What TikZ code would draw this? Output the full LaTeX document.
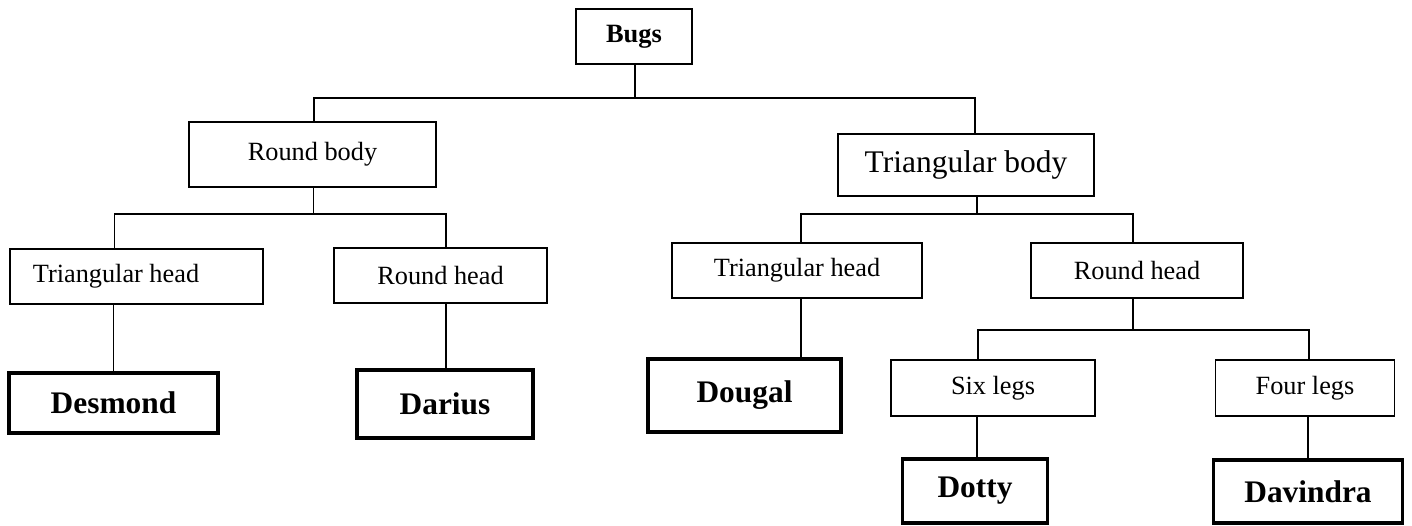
\documentclass[tikz,border=0pt]{standalone}
\usepackage{fontspec}
\setmainfont{Liberation Serif}
\begin{document}
\begin{tikzpicture}[x=1pt,y=-1pt,
  box/.style={draw=black,line width=1.3pt,inner sep=0pt,anchor=center,
    font=\fontsize{26.3}{30}\selectfont},
  namebox/.style={draw=black,line width=3.2pt,inner sep=0pt,anchor=center,
    font=\fontsize{31.4}{36}\selectfont\bfseries},
  conn/.style={draw=black,line width=1.3pt}]
\useasboundingbox (0,0) rectangle (1412,525);
% nodes
\node[box,minimum width=116pt,minimum height=55pt,font=\fontsize{26.4}{30}\selectfont\bfseries] (bugs) at (634,36.5) {Bugs};
\node[box,minimum width=247pt,minimum height=65pt] (rbody) at (312.5,154.5) {Round body};
\node[box,minimum width=256pt,minimum height=62pt,font=\fontsize{31.5}{36}\selectfont] (tbody) at (966,165) {Triangular body};
\node[box,minimum width=253pt,minimum height=55pt] (thl) at (136.5,276.5) {\hspace*{-41pt}Triangular head};
\node[box,minimum width=213pt,minimum height=55pt] (rhl) at (440.5,275.5) {Round head};
\node[namebox,minimum width=209pt,minimum height=60pt] (desmond) at (113.5,403) {Desmond};
\node[namebox,minimum width=176pt,minimum height=68pt] (darius) at (445,404) {Darius};
\node[box,minimum width=250pt,minimum height=55pt] (thr) at (797,270.5) {Triangular head};
\node[box,minimum width=212pt,minimum height=55pt] (rhr) at (1137,270.5) {Round head};
\node[namebox,minimum width=193pt,minimum height=73pt] (dougal) at (744.5,395.5) {Dougal};
\node[box,minimum width=204pt,minimum height=56pt] (sixl) at (993,388) {Six legs};
\node[box,minimum width=179pt,minimum height=56pt] (fourl) at (1305,388) {Four legs};
\node[namebox,minimum width=145pt,minimum height=64pt] (dotty) at (975,491) {Dotty};
\node[namebox,minimum width=189pt,minimum height=63pt] (davindra) at (1308,491.5) {Davindra};
% junctions
\coordinate (j1) at (635,98);
\coordinate (j2) at (313.5,214);
\coordinate (j3) at (977,214);
\coordinate (j4) at (1133,330);
% connectors
\draw[conn] ([xshift=1pt]bugs.south) -- (j1);
\draw[conn] ([xshift=1.5pt]rbody.north) |- (j1) -| ([xshift=9pt]tbody.north);
\draw[conn] ([xshift=1pt]rbody.south) -- (j2);
\draw[conn] ([xshift=-22pt]thl.north) |- (j2) -| ([xshift=5.5pt]rhl.north);
\draw[conn] (desmond.north) -- (desmond.north |- thl.south);
\draw[conn] ([xshift=1pt]darius.north) -- ([xshift=1pt]darius.north |- rhl.south);
\draw[conn] ([xshift=11pt]tbody.south) -- (j3);
\draw[conn] ([xshift=4pt]thr.north) |- (j3) -| ([xshift=-4pt]rhr.north);
\draw[conn] ([xshift=4pt]thr.south) -- ([xshift=4pt]thr.south |- dougal.north);
\draw[conn] ([xshift=-4pt]rhr.south) -- (j4);
\draw[conn] ([xshift=-15pt]sixl.north) |- (j4) -| ([xshift=4pt]fourl.north);
\draw[conn] ([xshift=2pt]dotty.north) -- ([xshift=2pt]dotty.north |- sixl.south);
\draw[conn] (davindra.north) -- (davindra.north |- fourl.south);
\end{tikzpicture}
\end{document}
